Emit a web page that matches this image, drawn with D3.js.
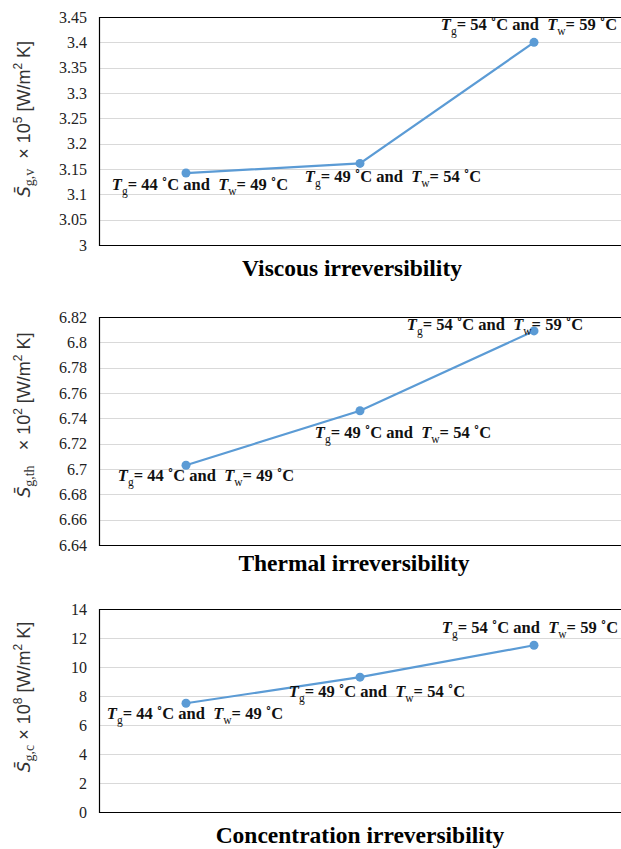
<!DOCTYPE html>
<html>
<head>
    <meta charset="UTF-8">
    <script src="https://d3js.org/d3.v7.min.js"></script>
    <style>
        body { margin: 0; background: #fff; }
        .panel-title { font-family: 'Liberation Serif', serif; font-size: 23.5px; font-weight: bold; text-anchor: middle; fill: #000; }
        .pt-label { font-family: 'Liberation Serif', serif; font-size: 16.5px; font-weight: bold; fill: #111; white-space: pre; }
        .y-title { font-family: 'Liberation Sans', sans-serif; font-size: 18px; fill: #333; white-space: pre; }
    </style>
</head>
<body>
<svg id="chart" width="621" height="849"></svg>
<script>
// temperature pairs (gas / wall) for each case
var tg = [44, 49, 54];
var tw = [49, 54, 59];
var categories = ["case1", "case2", "case3"];

// entropy generation values
var viscous = [3.142, 3.161, 3.400];
var thermal = [6.703, 6.746, 6.809];
var concentration = [7.5, 9.3, 11.5];

// tick values
var viscousTicks = [3, 3.05, 3.1, 3.15, 3.2, 3.25, 3.3, 3.35, 3.4, 3.45];
var thermalTicks = [6.64, 6.66, 6.68, 6.7, 6.72, 6.74, 6.76, 6.78, 6.8, 6.82];
var concTicks = [0, 2, 4, 6, 8, 10, 12, 14];

var svg = d3.select("#chart");
var left = 99, right = 621;

var x = d3.scalePoint().domain(categories).range([left, right]).padding(0.5);

var panels = [
    {
        values: viscous, ticks: viscousTicks, top: 17, bottom: 245,
        title: "Viscous irreversibility", titleX: 352, titleY: 276,
        sub: "g,v", pow: "5", unitGap: "  ", yMid: 119,
        offsets: [[14, 17], [33, 19], [-5, -12]]
    },
    {
        values: thermal, ticks: thermalTicks, top: 317, bottom: 545,
        title: "Thermal irreversibility", titleX: 354, titleY: 571,
        sub: "g,th", pow: "2", unitGap: "   ", yMid: 415,
        offsets: [[20, 16], [43, 27], [-39, -1]]
    },
    {
        values: concentration, ticks: concTicks, top: 609, bottom: 812,
        title: "Concentration irreversibility", titleX: 360, titleY: 843,
        sub: "g,c", pow: "8", unitGap: " ", yMid: 697,
        offsets: [[9, 16], [17, 20], [-4, -12]]
    }
];

panels.forEach(function (p) {
    var y = d3.scaleLinear()
        .domain([p.ticks[0], p.ticks[p.ticks.length - 1]])
        .range([p.bottom, p.top]);

    var g = svg.append("g");

    // gridlines
    g.selectAll(".grid")
        .data(p.ticks)
        .enter()
        .append("line")
        .attr("x1", left).attr("x2", right)
        .attr("y1", function (d) { return Math.round(y(d)) + 0.5; })
        .attr("y2", function (d) { return Math.round(y(d)) + 0.5; })
        .attr("stroke", "#d9d9d9")
        .attr("stroke-width", 1);

    // frame (left, top, bottom)
    g.append("path")
        .attr("d", "M" + right + "," + (p.top + 0.5) + "H" + (left + 0.5) + "V" + (p.bottom + 0.5) + "H" + right)
        .attr("fill", "none")
        .attr("stroke", "#000")
        .attr("stroke-width", 1.2);

    // y axis tick labels
    var axis = d3.axisLeft(y).tickValues(p.ticks).tickSize(0).tickPadding(12)
        .tickFormat(function (d) { return String(+d.toFixed(2)); });
    var ax = g.append("g").attr("transform", "translate(" + left + ",0)").call(axis);
    ax.select(".domain").remove();
    ax.selectAll(".tick text")
        .style("font-family", "'Liberation Serif', 'Times New Roman', serif")
        .style("font-size", "16px")
        .style("fill", "#222");

    // line + markers
    var line = d3.line()
        .x(function (d, i) { return x(categories[i]); })
        .y(function (d) { return y(d); });

    g.append("path")
        .datum(p.values)
        .attr("d", line)
        .attr("fill", "none")
        .attr("stroke", "#5b9bd5")
        .attr("stroke-width", 2.2);

    g.selectAll(".dot")
        .data(p.values)
        .enter()
        .append("circle")
        .attr("cx", function (d, i) { return x(categories[i]); })
        .attr("cy", function (d) { return y(d); })
        .attr("r", 4.5)
        .attr("fill", "#5b9bd5");

    // point labels
    p.values.forEach(function (v, i) {
        var t = g.append("text")
            .attr("class", "pt-label")
            .attr("x", x(categories[i]) + p.offsets[i][0])
            .attr("y", y(v) + p.offsets[i][1])
            .attr("text-anchor", "middle");
        t.append("tspan").attr("font-style", "italic").text("T");
        t.append("tspan").attr("font-weight", "normal").attr("font-size", "11.5px").attr("dy", 5).text("g");
        t.append("tspan").attr("dy", -5).text("= " + tg[i] + " \u02DAC and  ");
        t.append("tspan").attr("font-style", "italic").text("T");
        t.append("tspan").attr("font-weight", "normal").attr("font-size", "11.5px").attr("dy", 5).text("w");
        t.append("tspan").attr("dy", -5).text("= " + tw[i] + " \u02DAC");
    });

    // panel title
    svg.append("text")
        .attr("class", "panel-title")
        .attr("x", p.titleX)
        .attr("y", p.titleY)
        .text(p.title);

    // y axis title
    var yt = svg.append("text")
        .attr("class", "y-title")
        .attr("transform", "translate(30," + p.yMid + ") rotate(-90)")
        .attr("x", 0);
    yt.append("tspan").attr("font-style", "italic").attr("font-family", "'DejaVu Sans', sans-serif").attr("font-size", "17px").text("S\u0304");
    yt.append("tspan").attr("font-family", "'Liberation Serif', serif").attr("font-size", "14px").attr("dy", 4).text(p.sub);
    yt.append("tspan").attr("dy", -4).text(p.unitGap + "\u00D7 10");
    yt.append("tspan").attr("font-size", "12px").attr("dy", -8).text(p.pow);
    yt.append("tspan").attr("dy", 8).text(" [W/m");
    yt.append("tspan").attr("font-size", "12px").attr("dy", -8).text("2");
    yt.append("tspan").attr("dy", 8).text(" K]");
    // centre the rotated title on yMid
    var bb = yt.node().getBBox();
    yt.attr("x", -(bb.x + bb.width / 2));
});
</script>
</body>
</html>
